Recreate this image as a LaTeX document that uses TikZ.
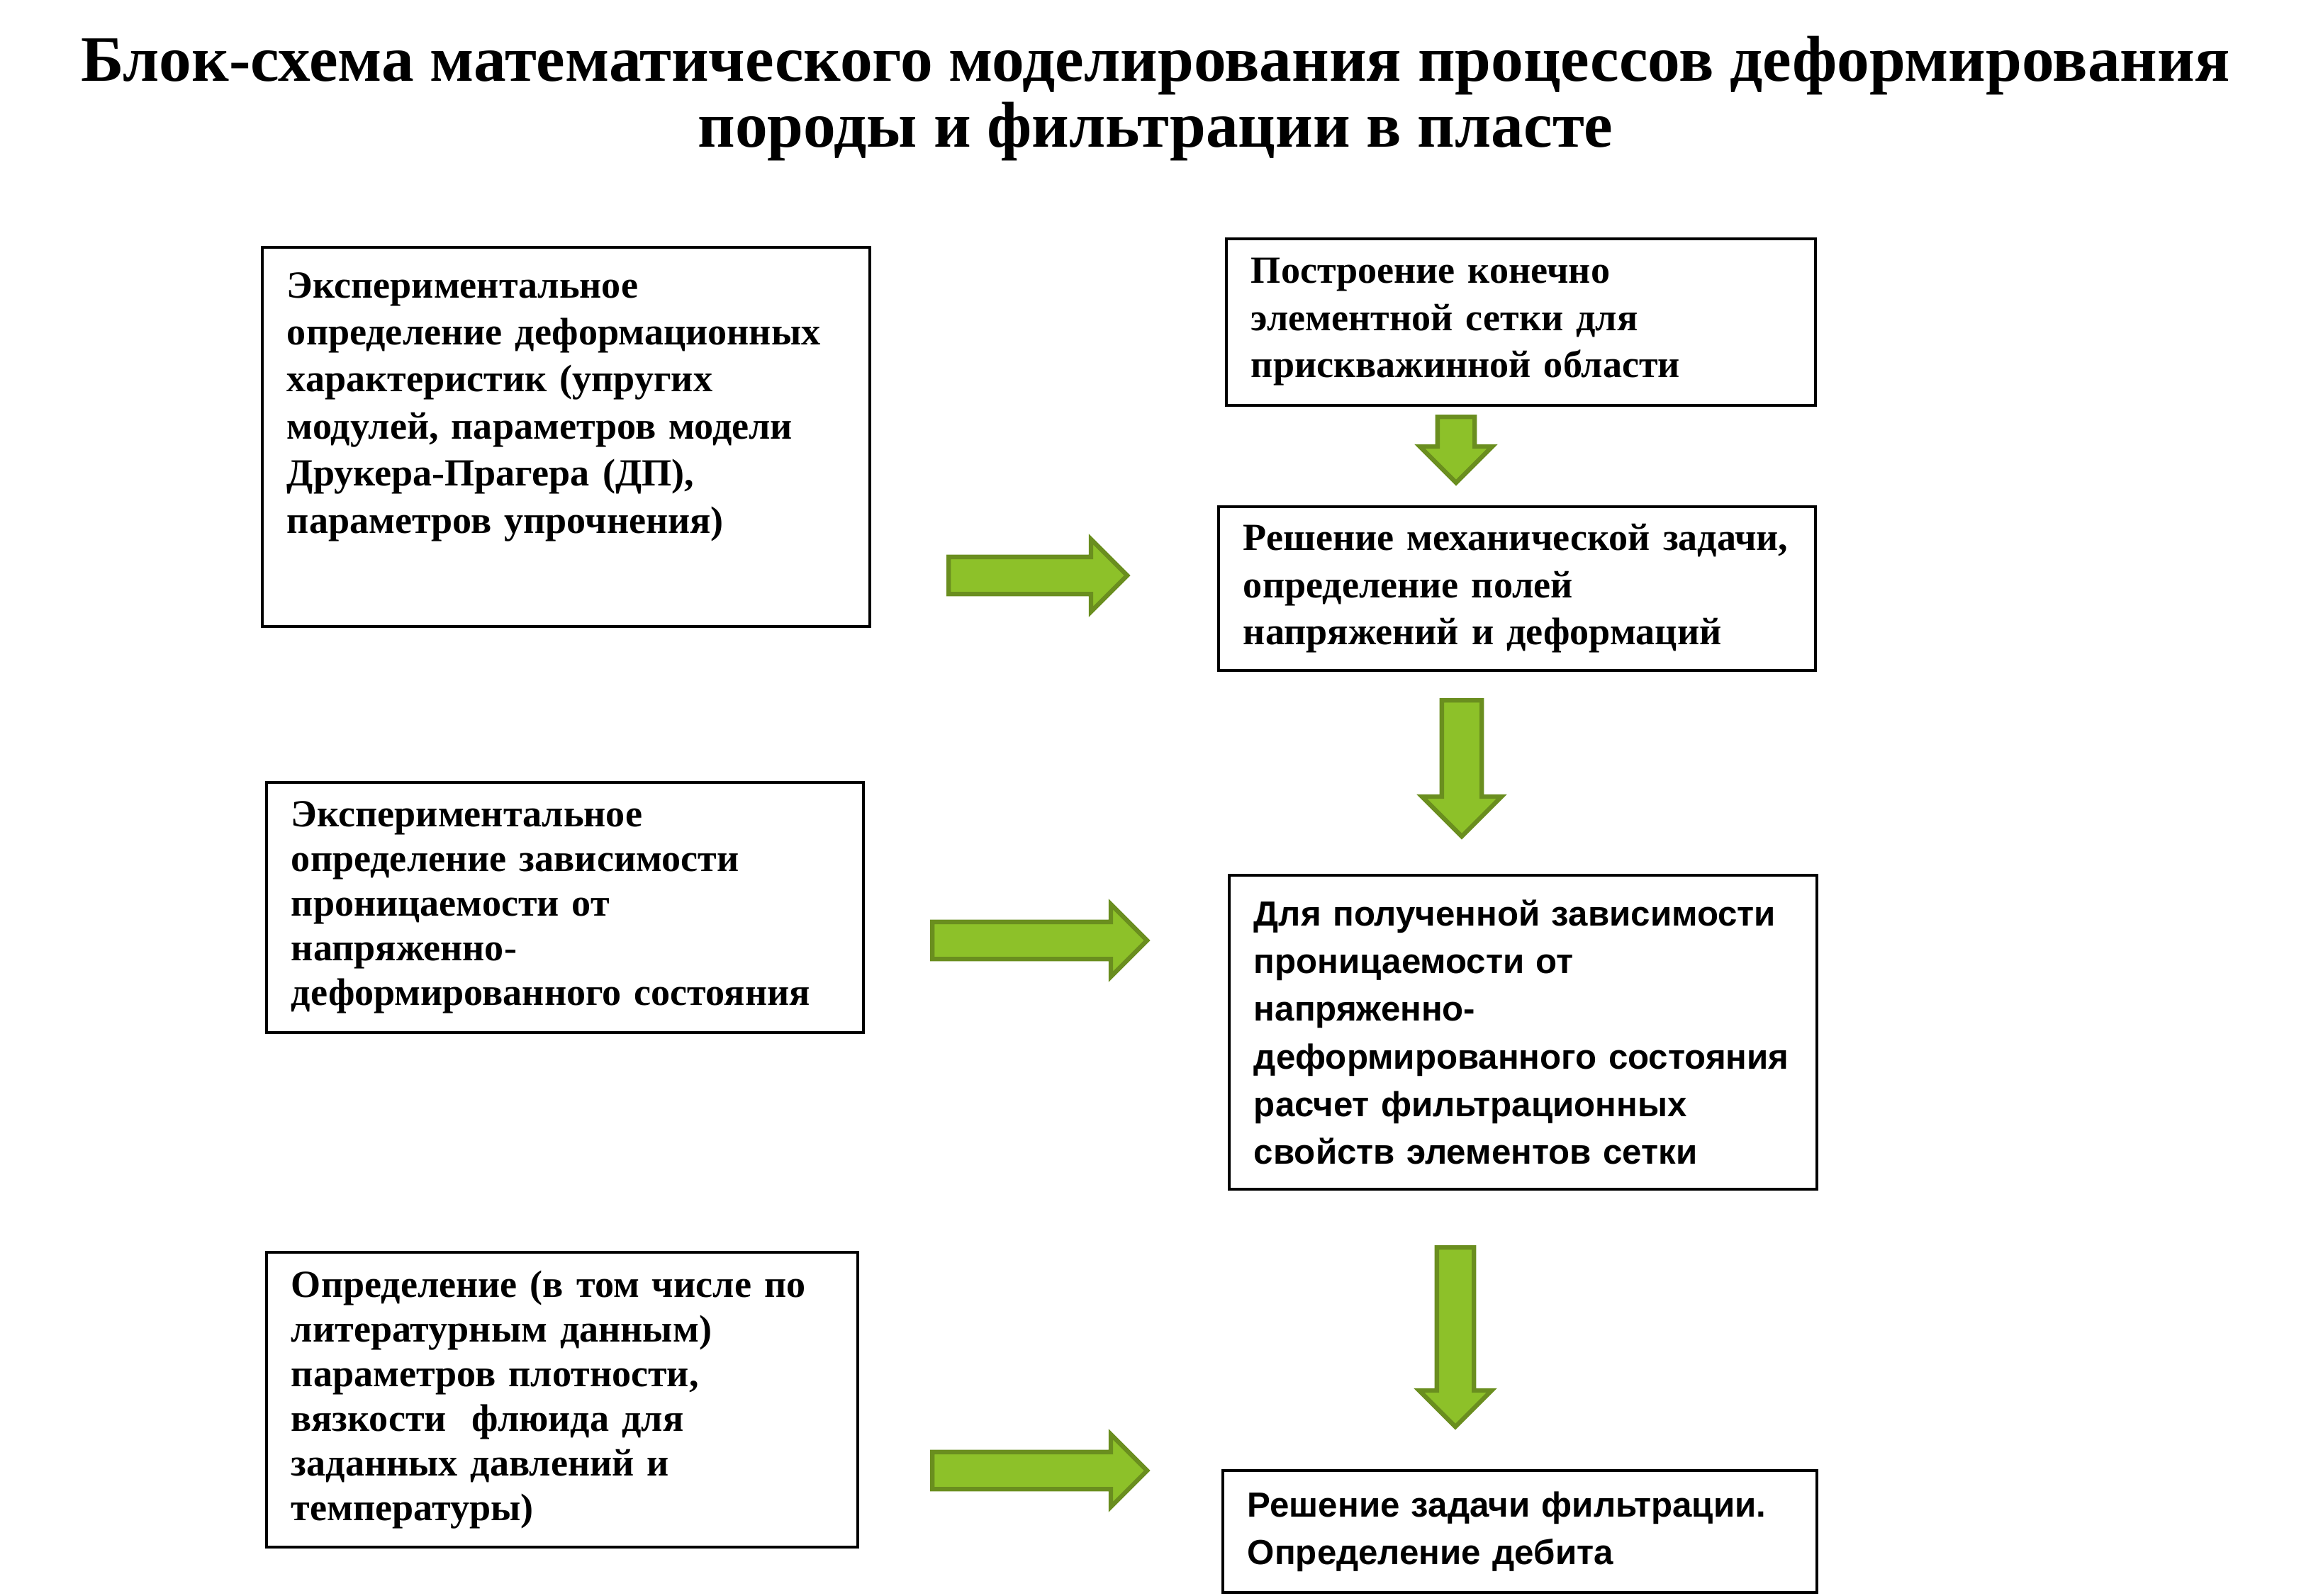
\documentclass[tikz,border=0pt]{standalone}
\usepackage{fontspec}
\setmainfont{Liberation Serif}
\newfontfamily\boxsans{Liberation Sans}
\usetikzlibrary{shapes.arrows}
\definecolor{arrowfill}{RGB}{141,193,41}
\definecolor{arrowline}{RGB}{106,142,31}

\begin{document}
\begin{tikzpicture}[
		box/.style={draw, line width=1.1pt, anchor=north west, inner xsep=0.35cm, inner ysep=0pt, align=left, font=\bfseries\fontsize{15.4}{18.9}\selectfont},
		sansbox/.style={box, font=\boxsans\bfseries\fontsize{14}{19.1}\selectfont},
		greenarrow/.style={single arrow, draw=arrowline, fill=arrowfill, line width=1.8pt, inner xsep=0pt, inner ysep=0.23cm, single arrow head extend=0.25cm, anchor=tail}
	]
	\useasboundingbox (0,0) rectangle (32.6,-22.51);
	\node[font=\bfseries\fontsize{26}{26.4}\selectfont, align=center] (title) at (16.3,-1.39) {Блок-схема математического моделирования процессов деформирования\\породы и фильтрации в пласте};

	\node[box, text width=7.87cm, minimum height=5.35cm] (expdef) at (3.68,-3.47) {Экспериментальное\\определение деформационных\\характеристик (упругих\\модулей, параметров модели\\Друкера-Прагера (ДП),\\параметров упрочнения)\\[0.3cm]\mbox{}};
	\node[box, text width=7.61cm, minimum height=2.35cm] (mesh) at (17.28,-3.35) {Построение конечно\\элементной сетки для\\прискважинной области};
	\node[box, text width=7.72cm, minimum height=2.31cm] (mech) at (17.17,-7.13) {Решение механической задачи,\\определение полей\\напряжений и деформаций};
	\node[box, text width=7.72cm, minimum height=3.53cm, font=\bfseries\fontsize{15.4}{17.9}\selectfont] (expperm) at (3.74,-11.02) {Экспериментальное\\определение зависимости\\проницаемости от\\напряженно-\\деформированного состояния};
	\node[sansbox, text width=7.59cm, minimum height=4.43cm] (perm) at (17.32,-12.33) {Для полученной зависимости\\проницаемости от\\напряженно-\\деформированного состояния\\расчет фильтрационных\\свойств элементов сетки};
	\node[box, text width=7.64cm, minimum height=4.16cm, font=\bfseries\fontsize{15.4}{17.9}\selectfont] (fluid) at (3.74,-17.65) {Определение (в том числе по\\литературным данным)\\параметров плотности,\\вязкости~ флюида для\\заданных давлений и\\температуры)};
	\node[sansbox, text width=7.68cm, minimum height=1.72cm] (filtr) at (17.23,-20.73) {Решение задачи фильтрации.\\Определение дебита};

	\node[greenarrow, minimum height=2.52cm] (arrA) at (13.35,-8.12) {};
	\node[greenarrow, minimum height=3.03cm] (arrB) at (13.12,-13.27) {};
	\node[greenarrow, minimum height=3.03cm] (arrC) at (13.12,-20.75) {};
	\node[greenarrow, minimum height=0.93cm, rotate=-90] (downA) at (20.54,-5.85) {};
	\node[greenarrow, minimum height=1.92cm, rotate=-90, inner ysep=0.25cm, single arrow head extend=0.28cm] (downB) at (20.62,-9.85) {};
	\node[greenarrow, minimum height=2.53cm, rotate=-90] (downC) at (20.53,-17.57) {};
\end{tikzpicture}
\end{document}
